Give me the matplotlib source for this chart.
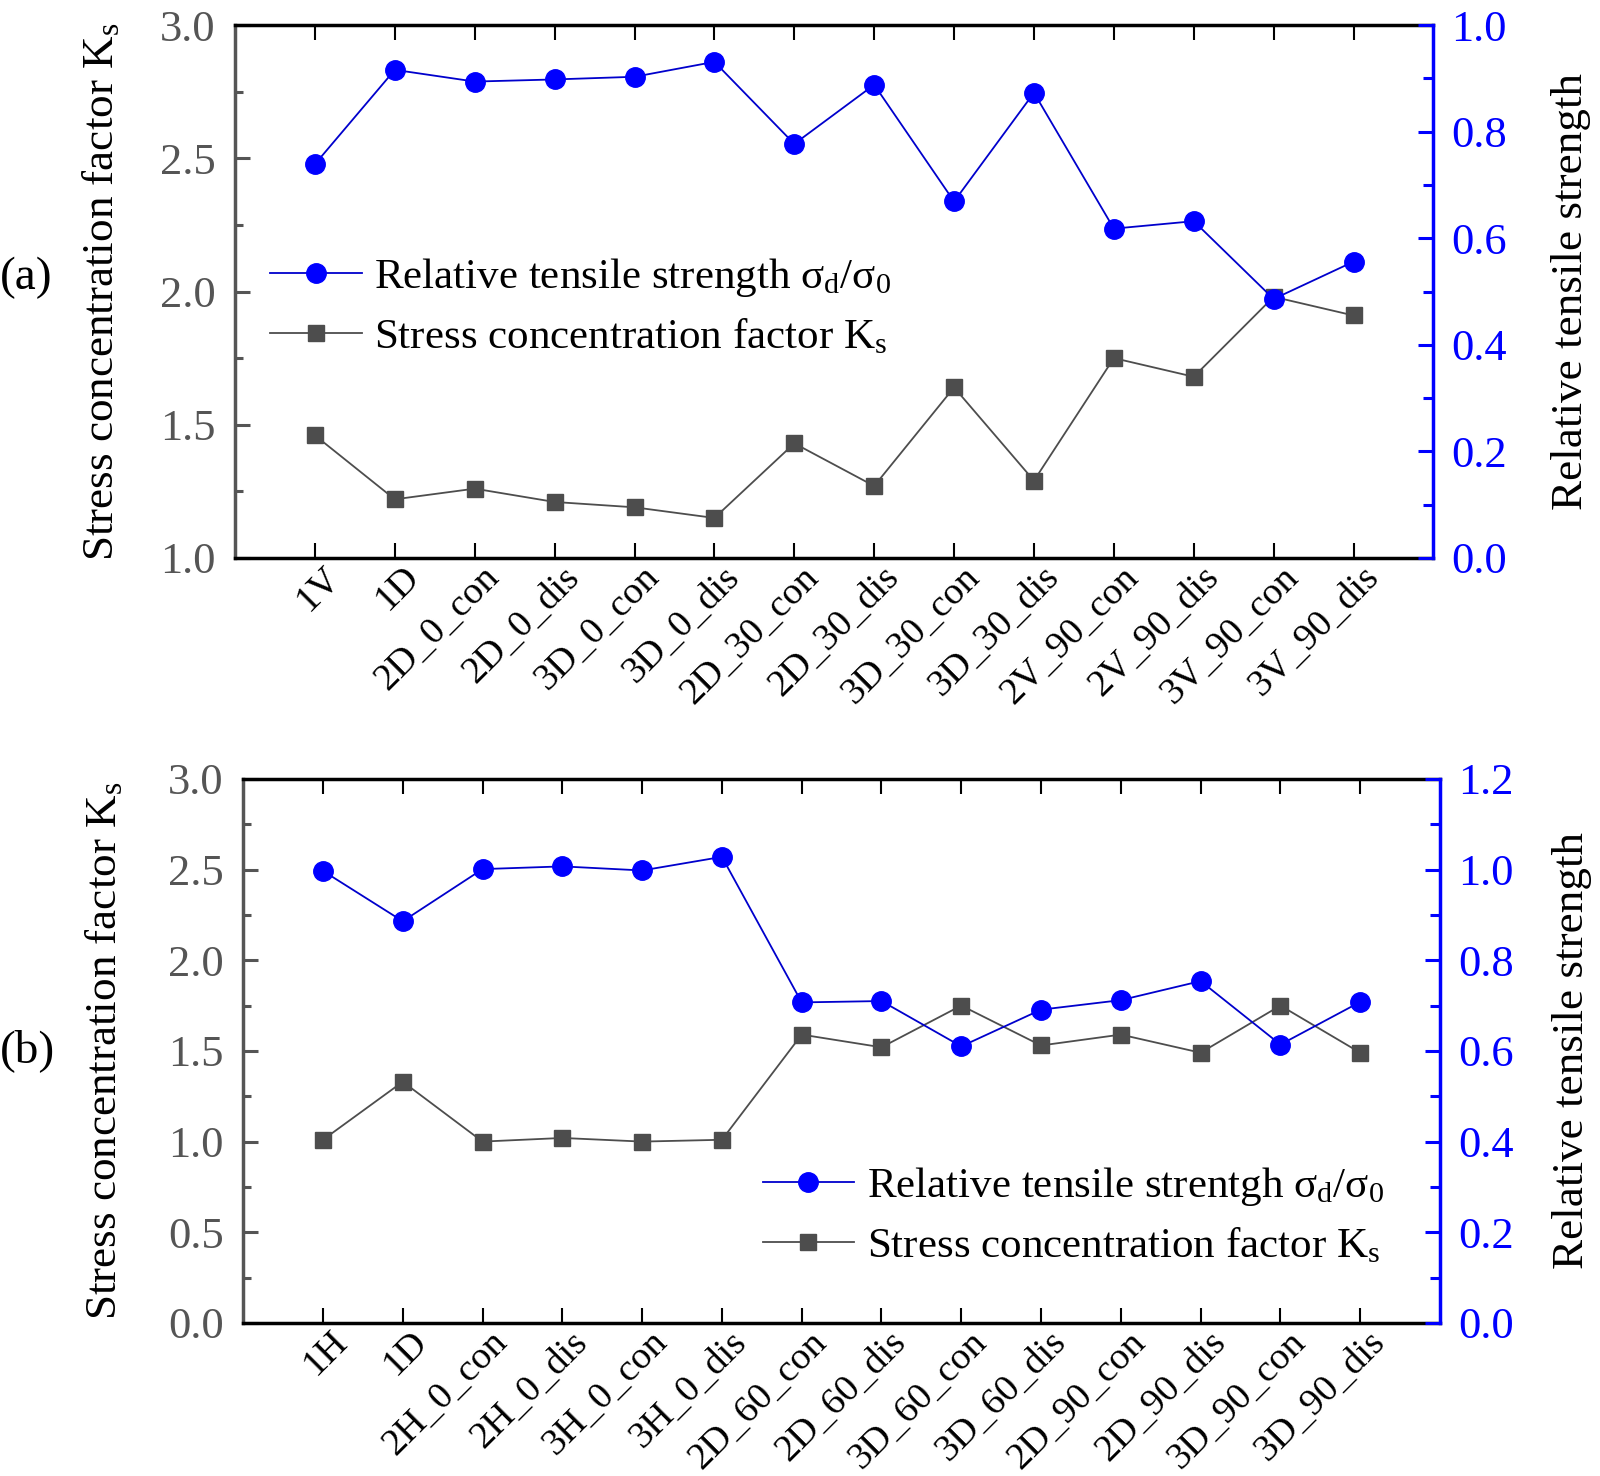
import numpy as np
import matplotlib
matplotlib.use("Agg")
import matplotlib.pyplot as plt
from matplotlib.ticker import MultipleLocator

plt.rcParams['font.family'] = ['Liberation Serif', 'DejaVu Serif']
plt.rcParams['mathtext.fontset'] = 'custom'
plt.rcParams['mathtext.rm'] = 'Liberation Serif'
plt.rcParams['mathtext.it'] = 'Liberation Serif:italic'

# panel (a)
cats_a = ['1V', '1D', '2D_0_con', '2D_0_dis', '3D_0_con', '3D_0_dis', '2D_30_con',
          '2D_30_dis', '3D_30_con', '3D_30_dis', '2V_90_con', '2V_90_dis',
          '3V_90_con', '3V_90_dis']
ks_a = [1.46, 1.22, 1.26, 1.21, 1.19, 1.15, 1.43, 1.27, 1.64, 1.29, 1.75, 1.68, 1.98, 1.91]
rts_a = [0.739, 0.916, 0.894, 0.898, 0.903, 0.931, 0.777, 0.888, 0.669, 0.873,
         0.618, 0.632, 0.486, 0.556]

# panel (b)
cats_b = ['1H', '1D', '2H_0_con', '2H_0_dis', '3H_0_con', '3H_0_dis', '2D_60_con',
          '2D_60_dis', '3D_60_con', '3D_60_dis', '2D_90_con', '2D_90_dis',
          '3D_90_con', '3D_90_dis']
ks_b = [1.01, 1.33, 1.00, 1.02, 1.00, 1.01, 1.59, 1.52, 1.75, 1.53, 1.59, 1.49, 1.75, 1.49]
rts_b = [0.997, 0.886, 1.001, 1.007, 0.998, 1.028, 0.707, 0.710, 0.610, 0.691,
         0.712, 0.754, 0.614, 0.708]

BLUE = '#0000FF'
BLUE_LINE = '#0000CC'
GRAY = '#4D4D4D'
TICK_FS = 32
LAB_FS = 32.5
LEG_FS = 31

fig = plt.figure(figsize=(16, 14.76), dpi=100)


def panel(rect, cats, ks, rts, ks_lim, r_lim, leg_label, leg_pos, tag, tag_y,
          left_lab_x, right_lab_x):
    ax = fig.add_axes(rect)
    x = np.arange(1, len(cats) + 1)
    l2, = ax.plot(x, ks, '-', color=GRAY, lw=1.3, marker='s', ms=12,
                  mfc=GRAY, mec=GRAY, label='Stress concentration factor K$_\\mathrm{s}$')
    ax.set_xlim(0, len(cats) + 1)
    ax.set_ylim(*ks_lim)
    ax.yaxis.set_major_locator(MultipleLocator(0.5))
    ax.yaxis.set_minor_locator(MultipleLocator(0.25))
    ax.set_xticks(x)
    ax.set_xticklabels([])
    # category labels, rotated, hung just under the bottom spine
    for xi, c in zip(x, cats):
        ax.annotate(c, xy=(xi, 0), xycoords=('data', 'axes fraction'),
                    xytext=(14, -10), textcoords='offset points', fontsize=27.5,
                    rotation=45, ha='right', va='center', rotation_mode='anchor')
    ax.tick_params(axis='x', which='major', direction='in', length=11, width=1.5,
                   top=True, color='black')
    ax.tick_params(axis='y', which='major', direction='in', length=11, width=2.2,
                   colors='#555555', labelsize=TICK_FS, pad=14)
    ax.tick_params(axis='y', which='minor', direction='in', length=6, width=2.2,
                   color='#555555')
    ax.set_yticklabels([f'{v:.1f}' for v in ax.get_yticks()])
    ax.set_ylabel('Stress concentration factor K$_\\mathrm{s}$', fontsize=LAB_FS)
    ax.yaxis.set_label_coords(left_lab_x, 0.5)
    for s in ['top', 'bottom']:
        ax.spines[s].set_linewidth(2.5)
        ax.spines[s].set_color('black')
    ax.spines['left'].set_linewidth(2.5)
    ax.spines['left'].set_color('#555555')

    ax2 = ax.twinx()
    l1, = ax2.plot(x, rts, '-', color=BLUE_LINE, lw=1.3, marker='o', ms=14,
                   mfc=BLUE, mec=BLUE, label=leg_label)
    ax2.set_ylim(*r_lim)
    ax2.yaxis.set_major_locator(MultipleLocator(0.2))
    ax2.yaxis.set_minor_locator(MultipleLocator(0.1))
    ax2.tick_params(axis='y', which='major', direction='in', length=11, width=2.2,
                    colors=BLUE, labelsize=TICK_FS, pad=13)
    ax2.tick_params(axis='y', which='minor', direction='in', length=7, width=2.2,
                    color=BLUE)
    ax2.set_yticklabels([f'{v:.1f}' for v in ax2.get_yticks()])
    ax2.spines['right'].set_color(BLUE)
    ax2.spines['right'].set_linewidth(2.5)
    for s in ['top', 'bottom', 'left']:
        ax2.spines[s].set_visible(False)
    ax2.set_ylabel('Relative tensile strength', fontsize=LAB_FS)
    ax2.yaxis.set_label_coords(right_lab_x, 0.5)

    ax2.legend([l1, l2], [l1.get_label(), l2.get_label()], loc='center left',
               bbox_to_anchor=leg_pos, frameon=False, fontsize=LEG_FS, borderpad=0,
               borderaxespad=0, handlelength=2.13, handletextpad=0.3, labelspacing=0.42)
    fig.text(0.0, tag_y, tag, fontsize=34, va='center', ha='left')
    return ax


panel([0.1469, 0.622, 0.749, 0.361], cats_a, ks_a, rts_a,
      (1.0, 3.0), (0.0, 1.0),
      'Relative tensile strength σ$_\\mathrm{d}$/σ$_\\mathrm{0}$', (0.029, 0.4715),
      '(a)', 1 - 272 * 1.0204 / 1476, -0.094, 1.098)

panel([0.152, 0.1037, 0.748, 0.3686], cats_b, ks_b, rts_b,
      (0.0, 3.0), (0.0, 1.2),
      'Relative tensile strentgh σ$_\\mathrm{d}$/σ$_\\mathrm{0}$', (0.434, 0.197),
      '(b)', 1 - 1030 * 1.0204 / 1476, -0.099, 1.094)

fig.savefig('out.png', dpi=100)
